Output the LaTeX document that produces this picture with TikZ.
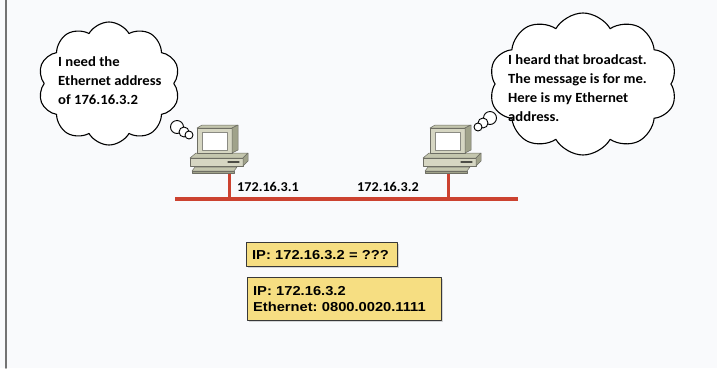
\documentclass[tikz,border=0pt]{standalone}
\usepackage{fontspec}
\setmainfont{Carlito}[FakeStretch=1.05]
\newfontfamily\boxfont{Liberation Sans}[FakeStretch=1.13]
\frenchspacing
\usetikzlibrary{shapes.symbols,shadows}

\definecolor{pagebg}{RGB}{249,250,252}
\definecolor{lanred}{RGB}{204,66,48}
\definecolor{notefill}{RGB}{246,222,130}
\definecolor{pcface}{RGB}{214,214,194}
\definecolor{pctop}{RGB}{196,198,174}
\definecolor{pcside}{RGB}{160,162,138}
\definecolor{pcline}{RGB}{110,110,100}

\tikzset{
  thought/.style={cloud, cloud puffs=10, cloud puff arc=120, draw, line width=1.1pt, fill=white, inner sep=0pt},
  bubble/.style={circle, draw, line width=0.9pt, fill=white, inner sep=0pt},
  saying/.style={align=left, inner sep=0pt, anchor=north west, font=\fontsize{14}{19}\selectfont\bfseries},
  addr/.style={inner sep=0pt, anchor=west, font=\fontsize{13.5}{15}\selectfont\bfseries},
  note/.style={draw=black!78, line width=1.3pt, fill=notefill, align=left, anchor=north west,
    inner xsep=5.5pt, inner ysep=3pt, font=\boxfont\fontsize{13}{15.5}\selectfont\bfseries,
    drop shadow={shadow xshift=1.2pt, shadow yshift=-1.2pt, opacity=0.3}},
  wire/.style={lanred, line width=3pt},
  pcpart/.style={draw=pcline, line width=0.5pt, line join=round},
  % desktop computer, origin at the top left corner of the monitor
  pics/computer/.style={code={
    % keyboard
    \filldraw[pcpart, fill=pctop] (-2,42) -- (40,42) -- (37,46) -- (-5,46) -- cycle;
    \filldraw[pcpart, fill=pcside] (-5,46) rectangle (37,48);
    % case
    \filldraw[pcpart, fill=pctop] (-7,33) -- (-1,28) -- (51,28) -- (46,33) -- cycle;
    \filldraw[pcpart, fill=pcface] (-7,33) rectangle (46,41);
    \filldraw[pcpart, fill=pcside] (46,33) -- (51,28) -- (51,36) -- (46,41) -- cycle;
    \draw[pcline!70!black, line width=1.2pt] (31,37) -- (42,37);
    % monitor
    \filldraw[pcpart, fill=pctop] (0,3) -- (5,0) -- (41,0) -- (35,3) -- cycle;
    \filldraw[pcpart, fill=pcface] (0,3) rectangle (35,28);
    \filldraw[pcpart, fill=pcside] (35,3) -- (41,0) -- (41,25) -- (35,28) -- cycle;
    \filldraw[draw=pcline!80, line width=0.8pt, fill=white] (5,7) rectangle (30,25);
  }}
}

\begin{document}
\begin{tikzpicture}[x=1pt, y=-1pt, line cap=round, line join=round]
  % page and its left edge
  \fill[pagebg] (0,0) rectangle (717,368);
  \useasboundingbox (0,0) rectangle (717,368);
  \draw[black!55, line width=1.5pt] (6,0) -- (6,368);

  % LAN segment and taps
  \coordinate (busW) at (175,198.5);
  \coordinate (busE) at (518,198.5);
  \coordinate (jackA) at (229,172);
  \coordinate (tapA) at (229,198.5);
  \coordinate (jackB) at (448,172);
  \coordinate (tapB) at (448,198.5);
  \draw[wire] (jackA) -- (tapA);
  \draw[wire] (jackB) -- (tapB);
  \draw[lanred, line width=4pt, line cap=butt] (busW) -- (busE);

  % the two hosts
  \pic (pcA) at (197,125) {computer};
  \pic (pcB) at (430,125) {computer};

  \node[addr] (ipA) at (237,187) {172.16.3.1};
  \node[addr] (ipB) at (357,187) {172.16.3.2};

  % thought clouds
  \node[thought, minimum width=142pt, minimum height=123pt] (askcloud) at (109,83.5) {};
  \node[bubble, minimum size=13pt] (askdotA) at (177,127) {};
  \node[bubble, minimum size=10pt] (askdotB) at (184,132) {};
  \node[bubble, minimum size=8pt] (askdotC) at (189,135) {};
  \node[saying] (asktext) at (58,56) {I need the\\Ethernet address\\of 176.16.3.2};

  \node[thought, minimum width=188pt, minimum height=142pt] (replycloud) at (583,84) {};
  \node[bubble, minimum size=13pt] (replydotA) at (490,118) {};
  \node[bubble, minimum size=10pt] (replydotB) at (483,123) {};
  \node[bubble, minimum size=8pt] (replydotC) at (478,127) {};
  \node[saying] (replytext) at (508,54) {I heard that broadcast.\\The message is for me.\\Here is my Ethernet\\address.};

  % ARP request and reply
  \node[note, text width=140pt, minimum height=24pt] (request) at (246,242) {IP: 172.16.3.2 = ???};
  \node[note, text width=183pt, minimum height=43pt] (reply) at (247,277) {IP: 172.16.3.2\\Ethernet: 0800.0020.1111};
\end{tikzpicture}
\end{document}
